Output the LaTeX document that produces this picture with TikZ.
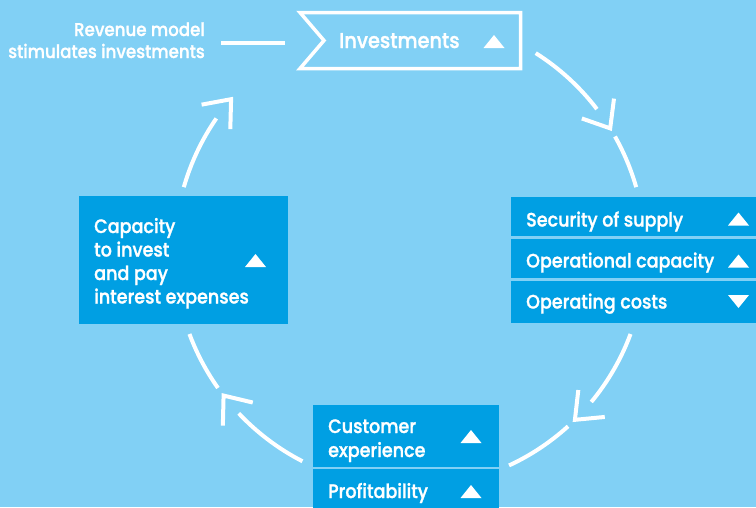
\documentclass[tikz,border=0pt]{standalone}
\usepackage{fontspec}
\setmainfont{Poppins}[UprightFont=* Medium, FakeStretch=0.9, FakeBold=1.2]
\usetikzlibrary{calc}
\definecolor{bgblue}{RGB}{129,208,245}
\definecolor{boxblue}{RGB}{0,159,227}
\newcommand\ringR{235.3}
\newcommand\ringarc[2]{\draw[ring] ($(C)+(#1:\ringR)$) arc[start angle=#1,end angle=#2,radius=\ringR];}
\newcommand\ringtip[1]{\draw[ring] ($(C)+(#1:\ringR)$) ++(#1-129:30) -- ($(C)+(#1:\ringR)$) -- ++(#1-51:30);}
\newcommand\uptri[2]{\fill[white] (#1,#2) ++(-10.5,6.5) -- ++(21,0) -- ++(-10.5,-13) -- cycle;}
\newcommand\downtri[2]{\fill[white] (#1,#2) ++(-10.5,-6.5) -- ++(21,0) -- ++(-10.5,13) -- cycle;}
\begin{document}
\begin{tikzpicture}[x=1pt,y=-1pt,
  ring/.style={draw=white, line width=4pt},
  bluebox/.style={fill=boxblue, draw=none, inner sep=0pt, anchor=north west},
  boxtext/.style={text=white, font=\fontsize{19.5}{23}\selectfont, anchor=base west, inner sep=0pt},
  revtext/.style={text=white, font=\fontsize{18.5}{22}\selectfont, anchor=base east, inner sep=0pt}
]
\fill[bgblue] (0,0) rectangle (756,507);
\useasboundingbox (0,0) rectangle (756,507);
\coordinate (C) at (410,252);

% Investments
\coordinate (invTL) at (300,12.5);
\coordinate (invTR) at (520.5,12.5);
\coordinate (invBR) at (520.5,68.5);
\coordinate (invBL) at (300,68.5);
\coordinate (invN) at (324,40.5);
\draw[white, line width=3.5pt] (invTL) -- (invTR) -- (invBR) -- (invBL) -- (invN) -- cycle;
\node[boxtext, font=\fontsize{21.5}{24}\selectfont] (inv) at (339,48) {Investments};
\uptri{494}{41.5}

% Revenue model
\node[revtext] (rev1) at (205,36) {Revenue model};
\node[revtext] (rev2) at (205,58) {stimulates investments};
\coordinate (revL) at (221,42.5);
\coordinate (revR) at (285,42.5);
\draw[white, line width=4pt] (revL) -- (revR);

% Right boxes
\node[bluebox, minimum width=245pt, minimum height=39pt] (sec) at (511,197) {};
\node[bluebox, minimum width=245pt, minimum height=39pt] (opc) at (511,239) {};
\node[bluebox, minimum width=245pt, minimum height=42pt] (opx) at (511,281) {};
\node[boxtext] (secT) at (526,226.5) {Security of supply};
\node[boxtext] (opcT) at (526,267.5) {Operational capacity};
\node[boxtext] (opxT) at (526,308.5) {Operating costs};
\uptri{738.5}{219}
\uptri{738.5}{261}
\downtri{738.5}{301.5}

% Left box
\node[bluebox, minimum width=209pt, minimum height=128pt] (cap) at (79,196) {};
\node[boxtext] (cap1) at (94,233) {Capacity};
\node[boxtext] (cap2) at (94,256.5) {to invest};
\node[boxtext] (cap3) at (94,280) {and pay};
\node[boxtext] (cap4) at (94,303.5) {interest expenses};
\uptri{255.5}{260.5}

% Bottom boxes
\node[bluebox, minimum width=186pt, minimum height=62pt] (cus) at (313,405) {};
\node[bluebox, minimum width=186pt, minimum height=40pt] (pro) at (313,469) {};
\node[boxtext] (cus1) at (328,433) {Customer};
\node[boxtext] (cus2) at (328,457) {experience};
\node[boxtext] (proT) at (328,498) {Profitability};
\uptri{471}{436.5}
\uptri{471}{491.5}

% Ring
\ringarc{-57.7}{-37.4}
\ringtip{-31.7}
\ringarc{-29.4}{-16.0}
\ringarc{20.4}{39.6}
\ringtip{45.5}
\ringarc{47.8}{65.1}
\ringarc{117.2}{136.7}
\ringtip{142.4}
\ringarc{144.7}{159.6}
\ringarc{196.0}{214.6}
\ringtip{220.5}
\end{tikzpicture}
\end{document}
